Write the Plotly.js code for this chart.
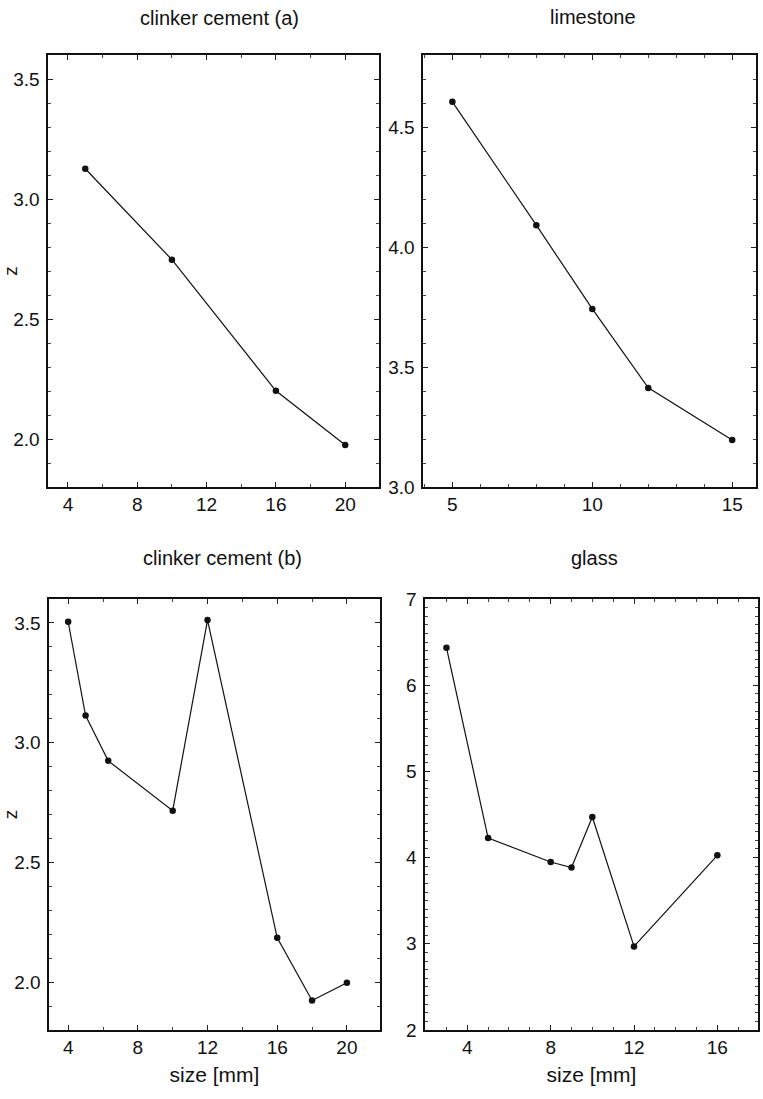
<!DOCTYPE html>
<html>
<head>
<meta charset="utf-8">
<script src="https://cdn.plot.ly/plotly-3.0.1.min.js"></script>
<style>html,body{margin:0;padding:0;background:#fff;}#chart{width:763px;height:1099px;}</style>
</head>
<body>
<div id="chart"></div>
<script>
// Data
const clinkerA_size = [5, 10, 16, 20];
const clinkerA_z = [3.126, 2.747, 2.201, 1.975];

const limestone_size = [5, 8, 10, 12, 15];
const limestone_z = [4.605, 4.091, 3.742, 3.413, 3.196];

const clinkerB_size = [4, 5, 6.3, 10, 12, 16, 18, 20];
const clinkerB_z = [3.505, 3.113, 2.924, 2.716, 3.512, 2.185, 1.923, 1.997];

const glass_size = [3, 5, 8, 9, 10, 12, 16];
const glass_z = [6.435, 4.227, 3.949, 3.884, 4.471, 2.97, 4.026];

const panelTitles = ["clinker cement (a)", "limestone", "clinker cement (b)", "glass"];
const xTitle = "size [mm]";
const yTitle = "z";

const FONT = "Liberation Sans, Arial, Helvetica, sans-serif";
const TICK = 19;

function trace(x, y, xa, ya) {
  return {
    x: x, y: y, xaxis: xa, yaxis: ya, type: 'scatter', mode: 'lines+markers',
    line: {color: '#111', width: 1.2},
    marker: {color: '#111', size: 6.5},
    showlegend: false, hoverinfo: 'x+y'
  };
}

const data = [
  trace(clinkerA_size, clinkerA_z, 'x', 'y'),
  trace(limestone_size, limestone_z, 'x2', 'y2'),
  trace(clinkerB_size, clinkerB_z, 'x3', 'y3'),
  trace(glass_size, glass_z, 'x4', 'y4')
];

function ax(opts) {
  return Object.assign({
    showline: true, linecolor: '#111', linewidth: 1.6, mirror: 'ticks',
    ticks: 'inside', ticklen: 5, tickwidth: 1, tickcolor: '#222',
    showgrid: false, zeroline: false,
    tickfont: {family: FONT, size: TICK, color: '#111'},
    title: {text: ''}
  }, opts);
}
const minorX = (d) => ({ticks: 'inside', dtick: d, tick0: 0, ticklen: 3, tickcolor: '#444'});

const W = 763, H = 1099;
const px = (a, b) => [a / W, b / W];
const py = (top, bottom) => [1 - bottom / H, 1 - top / H];

const layout = {
  width: W, height: H,
  margin: {l: 0, r: 0, t: 0, b: 0},
  paper_bgcolor: '#fff', plot_bgcolor: '#fff',
  font: {family: FONT, color: '#111'},
  xaxis: ax({domain: px(48, 379), range: [2.85, 21.95], anchor: 'y',
    tickvals: [4, 8, 12, 16, 20], minor: minorX(2)}),
  yaxis: ax({domain: py(55, 487), range: [1.8, 3.6], anchor: 'x', ticklabelstandoff: 3,
    tickvals: [2.0, 2.5, 3.0, 3.5], tickformat: '.1f', minor: minorX(0.1),
    title: {text: yTitle, font: {family: FONT, size: 19}, standoff: 10}}),
  xaxis2: ax({domain: px(423, 756), range: [3.95, 15.85], anchor: 'y2',
    tickvals: [5, 10, 15], minor: minorX(1)}),
  yaxis2: ax({domain: py(55, 487), range: [3.0, 4.8], anchor: 'x2', ticklabelstandoff: 3,
    tickvals: [3.0, 3.5, 4.0, 4.5], tickformat: '.1f', minor: minorX(0.1)}),
  xaxis3: ax({domain: px(49, 380), range: [2.9, 21.9], anchor: 'y3',
    tickvals: [4, 8, 12, 16, 20], minor: minorX(2),
    title: {text: xTitle, font: {family: FONT, size: 21}, standoff: 10}}),
  yaxis3: ax({domain: py(599, 1030), range: [1.8, 3.6], anchor: 'x3', ticklabelstandoff: 3,
    tickvals: [2.0, 2.5, 3.0, 3.5], tickformat: '.1f', minor: minorX(0.1),
    title: {text: yTitle, font: {family: FONT, size: 19}, standoff: 10}}),
  xaxis4: ax({domain: px(425, 758), range: [1.97, 17.95], anchor: 'y4',
    tickvals: [4, 8, 12, 16], minor: minorX(1),
    title: {text: xTitle, font: {family: FONT, size: 21}, standoff: 10}}),
  yaxis4: ax({domain: py(599, 1030), range: [2, 7], anchor: 'x4', ticklabelstandoff: 3,
    tickvals: [2, 3, 4, 5, 6, 7], minor: minorX(0.1)}),
  annotations: [
    {text: panelTitles[0], x: 219 / W, y: 1 - 18 / H},
    {text: panelTitles[1], x: 593 / W, y: 1 - 17 / H},
    {text: panelTitles[2], x: 222 / W, y: 1 - 558 / H},
    {text: panelTitles[3], x: 594 / W, y: 1 - 558 / H}
  ].map(a => Object.assign({xref: 'paper', yref: 'paper', showarrow: false,
    xanchor: 'center', yanchor: 'middle', font: {family: FONT, size: 20, color: '#111'}}, a))
};

Plotly.newPlot('chart', data, layout, {staticPlot: true, displayModeBar: false});
</script>
</body>
</html>
